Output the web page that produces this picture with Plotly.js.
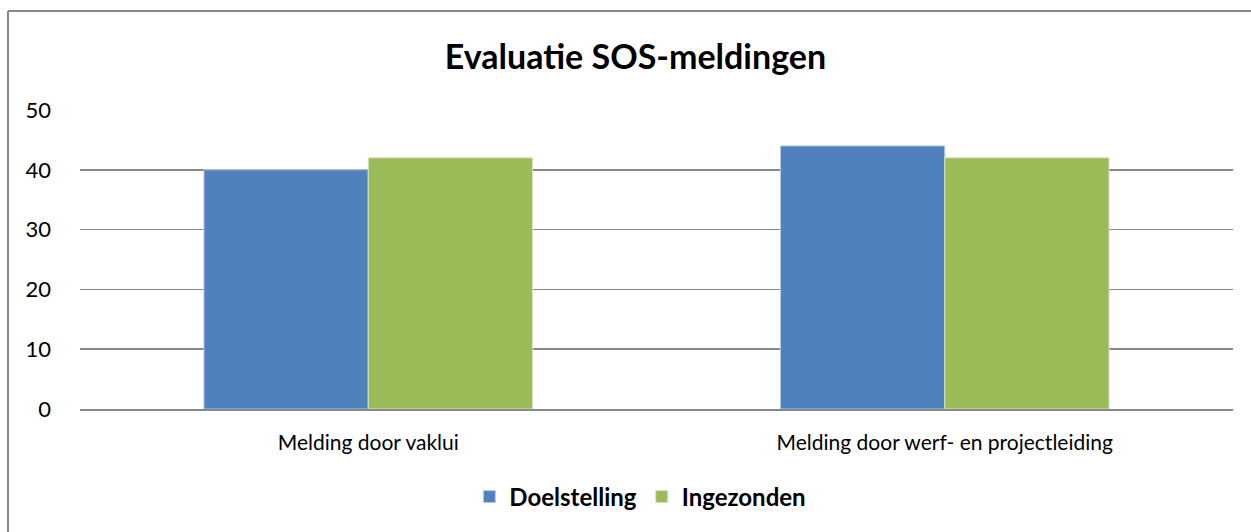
<!DOCTYPE html>
<html>
<head>
<meta charset="utf-8">
<script src="https://cdn.plot.ly/plotly-3.0.1.min.js"></script>
<style>
html,body{margin:0;padding:0;background:#fff;}
#chart{width:1251px;height:532px;}
</style>
</head>
<body>
<div id="chart"></div>
<script>
const categories = ["Melding door vaklui", "Melding door werf- en projectleiding"];
const seriesNames = ["Doelstelling", "Ingezonden"];
const doelstelling = [40, 44];
const ingezonden = [42, 42];
const yTicks = [0, 10, 20, 30, 40, 50];

const W = 1251, H = 532;
const m = {l: 80, r: 18, t: 110, b: 123};
const pw = W - m.l - m.r, ph = H - m.t - m.b;
const FONT = "Lato, 'Open Sans', sans-serif";

const traces = [
  {type: "bar", name: seriesNames[0], x: categories, y: doelstelling,
   marker: {color: "#4F81BD", line: {color: "#B9CDE5", width: 1}}},
  {type: "bar", name: seriesNames[1], x: categories, y: ingezonden,
   marker: {color: "#9BBB59", line: {color: "#D7E4BD", width: 1}}}
];

const layout = {
  width: W, height: H,
  margin: m,
  paper_bgcolor: "#fff", plot_bgcolor: "#fff",
  font: {family: FONT, color: "#000", size: 21},
  title: {text: "<b>Evaluatie SOS-meldingen</b>", font: {family: FONT, size: 34, color: "#000"},
          x: 0.508, xanchor: "center", y: 1 - 57/H, yanchor: "middle"},
  barmode: "group", bargap: 0.43, bargroupgap: 0,
  xaxis: {showgrid: false, showline: true, linecolor: "#888", linewidth: 2,
          ticks: "", tickfont: {family: FONT, size: 21}, ticklen: 0, ticklabelstandoff: 14,
          automargin: false},
  yaxis: {range: [0, 50], tickvals: yTicks, showgrid: true, gridcolor: "#888", gridwidth: 1.5,
          zeroline: false, showline: false, ticks: "", ticklabelstandoff: 28,
          tickfont: {family: FONT, size: 22}, automargin: false},
  legend: {orientation: "h", x: 0.486, xanchor: "center", y: -(497 - 409)/ph, yanchor: "middle",
           font: {family: FONT, size: 24, weight: "bold"}, itemwidth: 30, traceorder: "normal"},
  showlegend: true,
  shapes: [
    {type: "line", xref: "paper", yref: "paper",
     x0: (8 - m.l)/pw, x1: (W + 5 - m.l)/pw, y0: (H - m.b - 11)/ph, y1: (H - m.b - 11)/ph,
     line: {color: "#888", width: 2}},
    {type: "line", xref: "paper", yref: "paper",
     x0: (8 - m.l)/pw, x1: (8 - m.l)/pw, y0: (H - m.b - 11)/ph, y1: -(m.b + 5)/ph,
     line: {color: "#888", width: 2}}
  ]
};

Plotly.newPlot("chart", traces, layout, {displayModeBar: false, staticPlot: true});
</script>
</body>
</html>
